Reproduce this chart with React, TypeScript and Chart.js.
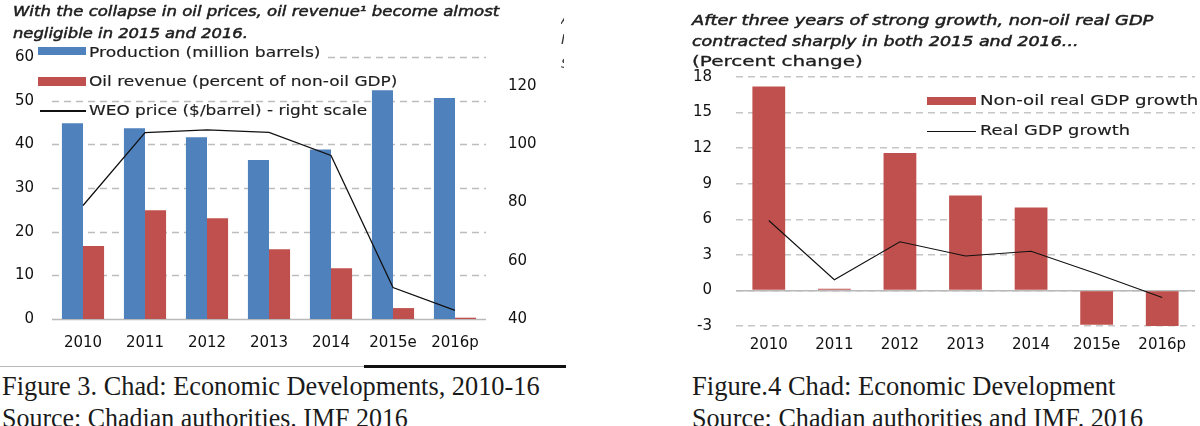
import React, { useEffect, useLayoutEffect, useRef, useState } from 'react';
import { Chart, registerables } from 'chart.js';

Chart.register(...registerables);

// ---------- data ----------
const categories = ['2010', '2011', '2012', '2013', '2014', '2015e', '2016p'];

// Figure 3
const production = [44.8, 43.7, 41.6, 36.4, 38.8, 52.4, 50.6];
const oilRevenue = [16.7, 24.9, 23.1, 16.0, 11.6, 2.5, 0.3];
const weoPrice = [79.0, 104.0, 105.0, 104.1, 96.2, 50.8, 43.0];
const leftTicks1 = [0, 10, 20, 30, 40, 50, 60];
const rightTicks1 = [40, 60, 80, 100, 120];

// Figure 4
const nonOilGrowth = [17.2, 0.15, 11.6, 8.0, 7.0, -2.9, -3.1];
const realGrowth = [5.9, 0.9, 4.1, 2.9, 3.3, 1.4, -0.6];
const ticks2 = [-3, 0, 3, 6, 9, 12, 15, 18];

const labelsFig3 = {
  production: 'Production (million barrels)',
  revenue: 'Oil revenue (percent of non-oil GDP)',
  price: 'WEO price ($/barrel) - right scale',
};
const labelsFig4 = {
  nonOil: 'Non-oil real GDP growth',
  real: 'Real GDP growth',
};

const BLUE = '#4F81BD';
const RED = '#C0504D';
const GRID = '#c6c6c6';
const GRID1 = '#bdbdbd';
const ZERO = '#b9b9b9';
const SANS = 'DejaVu Sans';
const SERIF = 'Liberation Serif';

Chart.defaults.font.family = SANS;

// ---------- text helper: fits a real-text string to a measured width ----------
type FitProps = {
  text: string;
  x: number;
  cy: number;
  width: number;
  size: number;
  italic?: boolean;
  stroke?: number;
  color?: string;
  family?: string;
};

function FitText({ text, x, cy, width, size, italic, stroke, color = '#1e1e1e', family = SANS }: FitProps) {
  const ref = useRef<HTMLSpanElement>(null);
  const [k, setK] = useState(1);
  useLayoutEffect(() => {
    const measure = () => {
      const el = ref.current;
      if (el && el.offsetWidth > 0) setK(width / el.offsetWidth);
    };
    measure();
    if ((document as any).fonts) (document as any).fonts.ready.then(measure);
  }, [text, width, size]);
  const lh = size * 1.2;
  return (
    <span
      ref={ref}
      style={{
        position: 'absolute',
        left: x,
        top: cy - size * 0.6,
        display: 'inline-block',
        whiteSpace: 'nowrap',
        fontFamily: family,
        fontSize: size,
        lineHeight: `${lh}px`,
        fontStyle: italic ? 'italic' : 'normal',
        color,
        WebkitTextStroke: stroke ? `${stroke}px ${color}` : undefined,
        transform: `scaleX(${k})`,
        transformOrigin: '0 50%',
        pointerEvents: 'none',
      }}
    >
      {text}
    </span>
  );
}

const tickFont = { size: 15 };

function zeroAxis(min: number, max: number) {
  return {
    position: 'left',
    min,
    max,
    ticks: { display: false },
    grid: { color: ZERO, drawTicks: false, lineWidth: 1.5 },
    border: { display: false },
    afterBuildTicks: (s: any) => { s.ticks = [{ value: 0 }]; },
    afterFit: (s: any) => { s.width = 0; },
  };
}

// Grid plugin: draws the horizontal grid of the 'y' scale at its tick values, under the datasets.
const scaleGridPlugin = {
  id: 'scaleGrid',
  beforeDatasetsDraw(chart: any) {
    const y = chart.scales.y;
    const area = chart.chartArea;
    if (!y || !area) return;
    const ctx = chart.ctx;
    ctx.save();
    for (const t of y.ticks) {
      const py = Math.round(y.getPixelForValue(t.value)) + 0.5;
      ctx.beginPath();
      if (t.value === 0) {
        ctx.setLineDash([]);
        ctx.strokeStyle = ZERO;
      } else {
        ctx.setLineDash([7, 5]);
        ctx.strokeStyle = GRID1;
      }
      ctx.lineWidth = 1.6;
      ctx.moveTo(area.left, py);
      ctx.lineTo(area.right, py);
      ctx.stroke();
    }
    ctx.restore();
  },
};

// ---------- Figure 3 ----------
function Figure3() {
  const ref = useRef<HTMLCanvasElement>(null);
  useEffect(() => {
    if (!ref.current) return;
    const chart = new Chart(ref.current, {
      type: 'bar',
      data: {
        labels: categories,
        datasets: [
          {
            type: 'line',
            label: labelsFig3.price,
            data: weoPrice,
            yAxisID: 'y1',
            borderColor: '#111',
            borderWidth: 1.3,
            pointRadius: 0,
            order: 0,
          } as any,
          {
            label: labelsFig3.production,
            data: production,
            backgroundColor: BLUE,
            categoryPercentage: 0.68,
            barPercentage: 1,
            order: 1,
          },
          {
            label: labelsFig3.revenue,
            data: oilRevenue,
            backgroundColor: RED,
            categoryPercentage: 0.68,
            barPercentage: 1,
            order: 1,
          },
        ],
      },
      options: {
        responsive: false,
        animation: false,
        layout: { padding: { top: 57 } },
        plugins: { legend: { display: false }, tooltip: { enabled: false } },
        scales: {
          x: {
            grid: { display: false, drawTicks: false },
            border: { display: false },
            ticks: { padding: 15, color: '#111', font: tickFont, maxRotation: 0, autoSkip: false },
            afterFit: (s: any) => { s.height = 41; },
          },
          y: {
            position: 'left',
            min: leftTicks1[0],
            max: leftTicks1[leftTicks1.length - 1],
            ticks: { stepSize: leftTicks1[1] - leftTicks1[0], padding: 18, color: '#111', font: tickFont },
            grid: { display: false, drawTicks: false },
            border: { display: false },
            afterFit: (s: any) => { s.width = 52; },
          },
          y1: {
            position: 'right',
            min: rightTicks1[0],
            max: 130,
            ticks: {
              stepSize: rightTicks1[1] - rightTicks1[0],
              padding: 22,
              color: '#111',
              font: tickFont,
              callback: (v: any) => (rightTicks1.includes(Number(v)) ? String(v) : ''),
            },
            grid: { display: false, drawTicks: false },
            border: { display: false },
            afterFit: (s: any) => { s.width = 114; },
          },
        },
      } as any,
      plugins: [scaleGridPlugin],
    });
    return () => chart.destroy();
  }, []);
  return (
    <canvas
      ref={ref}
      width={600}
      height={360}
      style={{ position: 'absolute', left: 0, top: 0, width: 600, height: 360, display: 'block' }}
    />
  );
}

// ---------- Figure 4 ----------
function Figure4() {
  const ref = useRef<HTMLCanvasElement>(null);
  useEffect(() => {
    if (!ref.current) return;
    const chart = new Chart(ref.current, {
      type: 'bar',
      data: {
        labels: categories,
        datasets: [
          {
            type: 'line',
            label: labelsFig4.real,
            data: realGrowth,
            borderColor: '#111',
            borderWidth: 1.1,
            pointRadius: 0,
            order: 0,
          } as any,
          {
            label: labelsFig4.nonOil,
            data: nonOilGrowth,
            backgroundColor: RED,
            categoryPercentage: 0.5,
            barPercentage: 1,
            order: 1,
          },
        ],
      },
      options: {
        responsive: false,
        animation: false,
        layout: { padding: { top: 77, right: 5 } },
        plugins: { legend: { display: false }, tooltip: { enabled: false } },
        scales: {
          x: {
            grid: { display: false, drawTicks: false },
            border: { display: false },
            ticks: { padding: 10, color: '#111', font: tickFont, maxRotation: 0, autoSkip: false },
            afterFit: (s: any) => { s.height = 34; },
          },
          y: {
            position: 'left',
            min: ticks2[0],
            max: ticks2[ticks2.length - 1],
            ticks: { stepSize: ticks2[1] - ticks2[0], padding: 24, color: '#111', font: tickFont },
            grid: { color: GRID, lineWidth: 1.5, drawTicks: false },
            border: { display: false, dash: [7, 5] },
            afterFit: (s: any) => { s.width = 136; },
          },
          yz: zeroAxis(ticks2[0], ticks2[ticks2.length - 1]),
        },
      } as any,
    });
    return () => chart.destroy();
  }, []);
  return (
    <canvas
      ref={ref}
      width={600}
      height={360}
      style={{ position: 'absolute', left: 600, top: 0, width: 600, height: 360, display: 'block' }}
    />
  );
}

function Clip({ x, y, w, ch }: { x: number; y: number; w: number; ch: string }) {
  return (
    <div style={{ position: 'absolute', left: x, top: y, width: w, height: 16, overflow: 'hidden' }}>
      <span style={{ fontFamily: SANS, fontSize: 14, fontStyle: 'italic', color: '#333', lineHeight: '16px' }}>{ch}</span>
    </div>
  );
}

export default function App() {
  return (
    <div
      style={{
        position: 'absolute',
        left: 0,
        top: 0,
        width: 1200,
        height: 426,
        overflow: 'hidden',
        background: '#fff',
      }}
    >
      <Figure3 />
      <Figure4 />

      {/* Figure 3 title */}
      <FitText text="With the collapse in oil prices, oil revenue¹ become almost" x={13} cy={11} width={486} size={14} italic stroke={0.5} />
      <FitText text="negligible in 2015  and 2016." x={13} cy={33} width={235} size={14} italic stroke={0.5} />

      {/* Figure 3 legend */}
      <div style={{ position: 'absolute', left: 36, top: 45, width: 288, height: 14, background: '#fff' }} />
      <div style={{ position: 'absolute', left: 38, top: 47, width: 48, height: 8, background: BLUE }} />
      <FitText text={labelsFig3.production} x={89} cy={52} width={231} size={13.5} stroke={0.15} />
      <div style={{ position: 'absolute', left: 38, top: 77, width: 48, height: 9, background: RED }} />
      <FitText text={labelsFig3.revenue} x={89} cy={81} width={308} size={13.5} stroke={0.15} />
      <div style={{ position: 'absolute', left: 40, top: 110, width: 46, height: 1.5, background: '#111' }} />
      <FitText text={labelsFig3.price} x={89} cy={110} width={278} size={13.5} stroke={0.15} />

      {/* cut-off fragments of neighbouring text */}
      <Clip x={561} y={10} w={3} ch="A" />
      <Clip x={561} y={30} w={3} ch="I" />
      <Clip x={561} y={54} w={3} ch="S" />

      {/* separator under figure 3 */}
      <div style={{ position: 'absolute', left: 0, top: 366, width: 364, height: 1, background: '#b8b8b8' }} />
      <div style={{ position: 'absolute', left: 364, top: 365, width: 202, height: 3, background: '#111' }} />

      {/* Figure 3 caption */}
      <FitText text="Figure 3. Chad: Economic Developments, 2010-16" x={2} cy={386} width={538} size={28} family={SERIF} color="#1a1a1a" />
      <FitText text="Source: Chadian authorities. IMF 2016" x={2} cy={418} width={406} size={28} family={SERIF} color="#1a1a1a" />

      {/* Figure 4 title */}
      <FitText text="After three years of strong growth, non-oil real GDP" x={692} cy={20} width={461} size={14} italic stroke={0.5} />
      <FitText text="contracted sharply in both 2015 and 2016..." x={692} cy={41} width={386} size={14} italic stroke={0.5} />
      <FitText text="(Percent change)" x={692} cy={62} width={171} size={14.5} stroke={0.3} />

      {/* Figure 4 legend */}
      <div style={{ position: 'absolute', left: 927, top: 97, width: 49, height: 8, background: RED }} />
      <FitText text={labelsFig4.nonOil} x={980} cy={101} width={218} size={14.5} stroke={0.15} />
      <div style={{ position: 'absolute', left: 927, top: 131, width: 49, height: 1.2, background: '#111' }} />
      <FitText text={labelsFig4.real} x={980} cy={131} width={150} size={14.5} stroke={0.15} />

      {/* Figure 4 caption */}
      <FitText text="Figure.4 Chad: Economic Development" x={692} cy={386} width={423} size={28} family={SERIF} color="#1a1a1a" />
      <FitText text="Source: Chadian authorities and IMF. 2016" x={692} cy={418} width={451} size={28} family={SERIF} color="#1a1a1a" />
    </div>
  );
}
